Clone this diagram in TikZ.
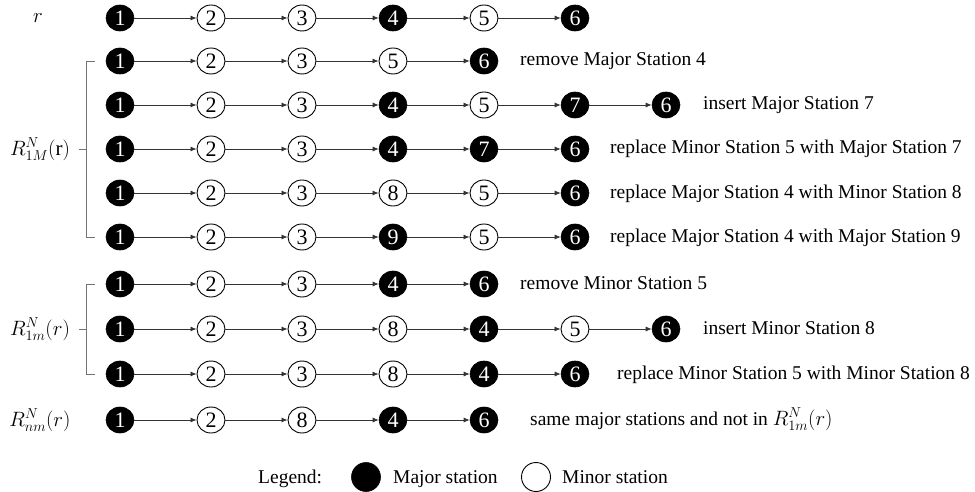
\documentclass[tikz,border=0pt]{standalone}
\usepackage{fontspec}
\setmainfont{Liberation Serif}
\usetikzlibrary{shapes.geometric,arrows.meta}
\tikzset{
  major/.style={ellipse, fill=black, draw=black, line width=0.6pt, text=white, minimum width=28pt, minimum height=26pt, inner sep=0pt, font=\fontsize{22}{22}\selectfont},
  minor/.style={ellipse, fill=white, draw=black, line width=0.9pt, text=black, minimum width=28pt, minimum height=26pt, inner sep=0pt, font=\fontsize{22}{22}\selectfont},
  link/.style={draw=black!80, line width=0.8pt, -{Latex[length=6pt,width=5pt]}},
  desc/.style={anchor=base west, inner sep=0pt, font=\fontsize{19.5}{22}\selectfont},
  rowlab/.style={anchor=center, inner sep=0pt, font=\fontsize{21}{24}\selectfont},
  brace/.style={draw=black!55, line width=0.8pt},
}
\newcommand\strow[3]{%
  \foreach \c/\t/\n [count=\i] in {#3} {
    \node[\t] (#1\i) at ({120+91*(\c-1)}, #2) {\n};
    \ifnum\i>1
      \pgfmathtruncatemacro\j{\i-1}
      \draw[link] (#1\j) -- (#1\i);
    \fi
  }%
}
\begin{document}
\begin{tikzpicture}[x=1pt,y=-1pt]
\useasboundingbox (0,0) rectangle (975,492);
% rows
\strow{A}{18}{1/major/1,2/minor/2,3/minor/3,4/major/4,5/minor/5,6/major/6}
\strow{B}{61}{1/major/1,2/minor/2,3/minor/3,4/minor/5,5/major/6}
\strow{C}{105}{1/major/1,2/minor/2,3/minor/3,4/major/4,5/minor/5,6/major/7,7/major/6}
\strow{D}{149}{1/major/1,2/minor/2,3/minor/3,4/major/4,5/major/7,6/major/6}
\strow{E}{193}{1/major/1,2/minor/2,3/minor/3,4/minor/8,5/minor/5,6/major/6}
\strow{F}{237}{1/major/1,2/minor/2,3/minor/3,4/major/9,5/minor/5,6/major/6}
\strow{G}{284}{1/major/1,2/minor/2,3/minor/3,4/major/4,5/major/6}
\strow{H}{329}{1/major/1,2/minor/2,3/minor/3,4/minor/8,5/major/4,6/minor/5,7/major/6}
\strow{I}{374}{1/major/1,2/minor/2,3/minor/3,4/minor/8,5/major/4,6/major/6}
\strow{J}{420}{1/major/1,2/minor/2,3/minor/8,4/major/4,5/major/6}
% descriptions
\node[desc] (tB) at (520,66) {remove Major Station 4};
\node[desc] (tC) at (703,110) {insert Major Station 7};
\node[desc] (tD) at (610,154) {replace Minor Station 5 with Major Station 7};
\node[desc] (tE) at (610,198) {replace Major Station 4 with Minor Station 8};
\node[desc] (tF) at (610,242) {replace Major Station 4 with Major Station 9};
\node[desc] (tG) at (520,289) {remove Minor Station 5};
\node[desc] (tH) at (703,334) {insert Minor Station 8};
\node[desc] (tI) at (617,379) {replace Minor Station 5 with Minor Station 8};
\node[desc] (tJ) at (530,425) {same major stations and not in $R^{N}_{1m}(r)$};
% row labels
\node[rowlab] (lA) at (38,18) {$r$};
\node[rowlab] (lM) at (40,149) {$R^{N}_{1M}(\mathrm{r})$};
\node[rowlab] (lm) at (40,329) {$R^{N}_{1m}(r)$};
\node[rowlab] (ln) at (40,420) {$R^{N}_{nm}(r)$};
% brackets
\draw[brace] (95,61) -- (86,61) -- (86,237) -- (95,237);
\draw[brace] (86,149) -- (79,149);
\draw[brace] (95,284) -- (86,284) -- (86,374) -- (95,374);
\draw[brace] (86,329) -- (79,329);
% legend
\node[desc] (leg) at (258,483) {Legend:};
\node[major, minimum width=29pt, minimum height=29pt] (legM) at (366,477) {};
\node[desc] (legMt) at (393,483) {Major station};
\node[minor, minimum width=29pt, minimum height=29pt] (legm) at (536,477) {};
\node[desc] (legmt) at (562,483) {Minor station};
\end{tikzpicture}
\end{document}
